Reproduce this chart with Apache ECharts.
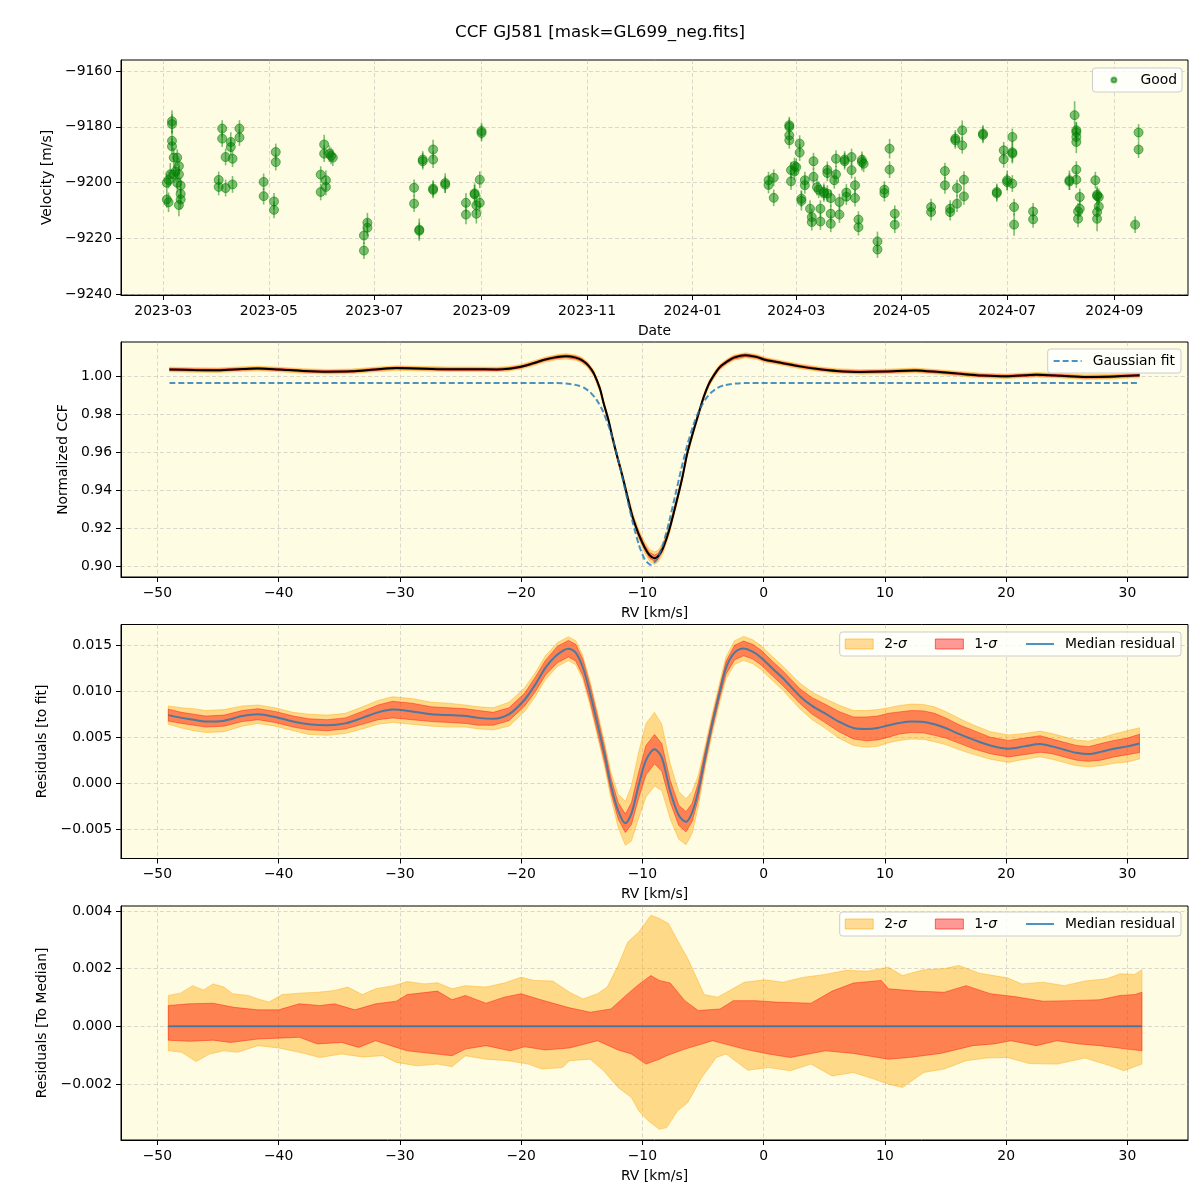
<!DOCTYPE html>
<html><head><meta charset="utf-8">
<script src="https://cdn.jsdelivr.net/npm/echarts@6/dist/echarts.min.js"></script>
<style>html,body{margin:0;padding:0;background:#fff}#c{width:1200px;height:1200px}</style>
</head><body><div id="c"></div>
<script>
const FONT = 'DejaVu Sans';
const FS = 13.9;

// ---------- Panel 1: RV time series ----------
const obsDates = [
'2023-03-03','2023-03-03','2023-03-04','2023-03-04','2023-03-05','2023-03-06','2023-03-06','2023-03-06','2023-03-06','2023-03-07',
'2023-03-07','2023-03-08','2023-03-09','2023-03-09','2023-03-10','2023-03-10','2023-03-10','2023-03-11','2023-03-11','2023-03-11',
'2023-04-02','2023-04-02','2023-04-04','2023-04-04','2023-04-06','2023-04-06','2023-04-09','2023-04-09','2023-04-10','2023-04-10',
'2023-04-14','2023-04-14','2023-04-28','2023-04-28','2023-05-04','2023-05-04','2023-05-05','2023-05-05',
'2023-05-31','2023-05-31','2023-06-02','2023-06-02','2023-06-03','2023-06-03','2023-06-05','2023-06-06','2023-06-07',
'2023-06-25','2023-06-25','2023-06-27','2023-06-27',
'2023-07-24','2023-07-24','2023-07-27','2023-07-27','2023-07-29','2023-07-29','2023-08-04','2023-08-04','2023-08-04','2023-08-04',
'2023-08-11','2023-08-11','2023-08-23','2023-08-23','2023-08-28','2023-08-28','2023-08-29','2023-08-29','2023-08-31','2023-08-31',
'2023-09-01','2023-09-01',
'2024-02-14','2024-02-14','2024-02-17','2024-02-17','2024-02-26','2024-02-26','2024-02-26','2024-02-26','2024-02-27','2024-02-27',
'2024-02-29','2024-02-29','2024-03-01','2024-03-03','2024-03-03','2024-03-04','2024-03-04','2024-03-06','2024-03-06','2024-03-09',
'2024-03-10','2024-03-10','2024-03-11','2024-03-11','2024-03-13','2024-03-14','2024-03-15','2024-03-15','2024-03-17','2024-03-17',
'2024-03-19','2024-03-19','2024-03-19','2024-03-21','2024-03-21','2024-03-21','2024-03-23','2024-03-24','2024-03-24','2024-03-26',
'2024-03-26','2024-03-29','2024-03-29','2024-03-30','2024-03-30','2024-04-02','2024-04-02','2024-04-04','2024-04-04','2024-04-06',
'2024-04-06','2024-04-08','2024-04-08','2024-04-09','2024-04-17','2024-04-17','2024-04-21','2024-04-21','2024-04-24','2024-04-24',
'2024-04-27','2024-04-27',
'2024-05-18','2024-05-18','2024-05-26','2024-05-26','2024-05-29','2024-05-29','2024-06-01','2024-06-01','2024-06-02','2024-06-02',
'2024-06-05','2024-06-05','2024-06-06','2024-06-06','2024-06-17','2024-06-17','2024-06-25','2024-06-25','2024-06-29','2024-06-29',
'2024-07-01','2024-07-01','2024-07-04','2024-07-04','2024-07-04','2024-07-04','2024-07-05','2024-07-05','2024-07-16','2024-07-16',
'2024-08-06','2024-08-06','2024-08-09','2024-08-10','2024-08-10','2024-08-10','2024-08-10','2024-08-10','2024-08-10','2024-08-12',
'2024-08-12','2024-08-11','2024-08-11','2024-08-21','2024-08-22','2024-08-22','2024-08-23','2024-08-23','2024-08-22','2024-08-22',
'2024-09-13','2024-09-15','2024-09-15'
];
const obsRV = [
-9200,-9206,-9207,-9199,-9197,-9178,-9179,-9185,-9187,-9191,
-9197,-9196,-9191,-9200,-9194,-9197,-9208,-9204,-9206,-9201,
-9199,-9201.5,-9180.6,-9184.2,-9190.8,-9201.9,-9185.4,-9187.2,-9191.4,-9200.6,
-9180.6,-9183.8,-9199.7,-9204.8,-9206.7,-9209.7,-9189,-9192.6,
-9197.1,-9203.3,-9186.3,-9189.6,-9199.1,-9201.5,-9189.6,-9190.4,-9191,
-9218.9,-9224.3,-9214.3,-9216.1,
-9201.8,-9207.5,-9216.8,-9217.2,-9191.7,-9192.3,-9202.1,-9202.6,-9188.1,-9191.7,
-9200.1,-9200.7,-9207.2,-9211.4,-9204.2,-9203.8,-9208.1,-9211.1,-9207.2,-9198.9,
-9181.5,-9182.2,
-9199.1,-9200.8,-9198.2,-9205.4,-9179.4,-9180,-9183,-9184.8,-9195.5,-9199.5,
-9196,-9194,-9194.4,-9186,-9189.2,-9205.7,-9206.5,-9199.1,-9200.9,-9209.3,
-9212.3,-9214.1,-9192.3,-9197.9,-9201.6,-9202.5,-9209.3,-9213.9,-9203.3,-9203.8,
-9195.4,-9196.5,-9203.9,-9205.5,-9211.1,-9214.7,-9199.1,-9197,-9191.4,-9206.9,
-9211.4,-9191.7,-9192.3,-9203.5,-9205,-9190.8,-9195.5,-9200.9,-9205.5,-9213.2,
-9215.9,-9191.8,-9192.6,-9193.2,-9221,-9223.9,-9202.5,-9203.7,-9187.8,-9195.3,
-9211.1,-9215,
-9208.7,-9210.5,-9195.8,-9200.9,-9209.3,-9210.5,-9184.2,-9184.8,-9201.9,-9207.5,
-9181.2,-9186.6,-9198.9,-9204.9,-9182.4,-9182.9,-9203.3,-9203.8,-9188.4,-9191.6,
-9199.1,-9199.8,-9183.6,-9189.1,-9189.6,-9200.3,-9208.7,-9215,-9210.3,-9213.1,
-9199.1,-9199.6,-9175.8,-9181.2,-9181.9,-9183.6,-9185.4,-9195.3,-9198.9,-9205.1,
-9209.3,-9210.3,-9212.9,-9199.1,-9204.3,-9204.8,-9205.1,-9208.5,-9210.5,-9212.9,
-9215,-9182,-9188.1
];
const obsErr = [
3,3,3.5,3,4,4,3.5,3.5,3,3.5,
3,3.5,3,3.5,3,3,4,3.5,3.5,3,
3,3,3,3,3,3,3.5,3,3,3,
3,3,3,3,3,3,3,3,
3,3,3.5,3,3.5,3,3,3,3,
3,3,3.5,3,
3,3,4,3,3,3,3,3,3.5,3,
3.5,3,3.5,3.5,4,3,3.5,3.5,3,3,
3,3,
3,3,3,3,3,3,3,3,3,3,
3,3,3,3,3,3,3.5,3,3,3,
3,3,3,3,3,3,3,3,3,3,
3,3,3,3,3,3,3,3,3,3,
3,3,3,3,3,3,3,3,3,3,
3,3,3,3,3.5,3,3,3,3.5,3,
3,3,
3,3,3,3,3,3,3,3,3,3,
3.5,3,3,3,3,3,3,3,3,3,
3.5,3,3,4,3,3,3,4,3,3,
3.5,3,5,3,3.5,3,4,3,3,3,
3,3,3,3,3,3,3,3,3,4.5,
3,3,3
];
const dateTicks = ['2023-03-01','2023-05-01','2023-07-01','2023-09-01','2023-11-01','2024-01-01','2024-03-01','2024-05-01','2024-07-01','2024-09-01'];
const velTicks = [-9240,-9220,-9200,-9180,-9160];

// ---------- Panel 2: CCF ----------
const rvCCF = [-49,-47,-45,-43,-41.7,-40,-38,-36,-34,-32,-30.3,-28,-26,-24,-22,-21,-20,-19,-18,-17,
-16.3,-15.5,-15,-14.5,-14,-13.5,-13.2,-12.8,-12.4,-12,-11.7,-11.2,-10.8,-10.3,-9.8,-9.4,-9.0,-8.7,-8.3,-7.8,
-7.15,-6.7,-6.3,-5.85,-5.4,-4.95,-4.5,-4.0,-3.6,-3.0,-2.45,-1.5,-0.6,0.1,1.5,3,4.5,6,8,10,
12.5,14.5,16,18,20,22.5,24.5,26.5,28.5,31];
const ccf = [1.0036,1.0033,1.0032,1.0038,1.0041,1.0036,1.0028,1.0024,1.0026,1.0036,1.0043,1.0040,1.0037,1.0037,1.0036,1.0040,1.0050,1.0068,1.0088,1.0101,
1.0105,1.0098,1.0085,1.0060,1.0015,0.9935,0.9860,0.9770,0.9660,0.9560,0.9490,0.9360,0.9260,0.9170,0.9100,0.9060,0.9045,0.9055,0.9098,0.9190,
0.9350,0.9470,0.9595,0.9700,0.9796,0.9890,0.9962,1.0015,1.0049,1.0078,1.0098,1.0110,1.0102,1.0087,1.0070,1.0052,1.0038,1.0028,1.0023,1.0025,
1.0031,1.0022,1.0014,1.0004,1.0000,1.0008,1.0003,0.9996,0.9998,1.0005];
const ccfSig1 = [0.0006,0.0006,0.0006,0.0006,0.0006,0.0006,0.0006,0.0006,0.0006,0.0006,0.0006,0.0006,0.0006,0.0006,0.0006,0.0006,0.0006,0.0006,0.0006,0.0007,
0.0007,0.0008,0.0008,0.0008,0.0008,0.0009,0.0009,0.0010,0.0010,0.0010,0.0011,0.0011,0.0012,0.0013,0.0014,0.0015,0.0016,0.0015,0.0014,0.0012,
0.0011,0.0010,0.0010,0.0009,0.0009,0.0008,0.0008,0.0008,0.0008,0.0008,0.0008,0.0007,0.0007,0.0007,0.0006,0.0006,0.0006,0.0006,0.0006,0.0006,
0.0006,0.0006,0.0006,0.0006,0.0006,0.0006,0.0006,0.0006,0.0006,0.0006];
const ccfSig2 = [0.0012,0.0012,0.0012,0.0012,0.0012,0.0012,0.0012,0.0012,0.0012,0.0012,0.0012,0.0012,0.0012,0.0012,0.0012,0.0012,0.0012,0.0013,0.0013,0.0013,
0.0014,0.0014,0.0015,0.0015,0.0016,0.0017,0.0017,0.0018,0.0019,0.0020,0.0021,0.0022,0.0024,0.0026,0.0029,0.0031,0.0033,0.0031,0.0029,0.0026,
0.0023,0.0021,0.0019,0.0018,0.0017,0.0016,0.0015,0.0015,0.0014,0.0014,0.0014,0.0013,0.0013,0.0013,0.0012,0.0012,0.0012,0.0012,0.0012,0.0012,
0.0012,0.0012,0.0012,0.0012,0.0012,0.0012,0.0012,0.0012,0.0012,0.0012];
const rvGauss = [-49,-17,-16.3,-15.3,-14.8,-14.3,-13.8,-13.3,-12.8,-12.3,-11.8,-11.3,-10.8,-10.3,-9.8,-9.3,
-8.8,-8.3,-7.8,-7.3,-6.8,-6.3,-5.8,-5.3,-4.8,-4.3,-3.8,-3.3,-2.3,-1.3,31];
const gauss = [0.9965,0.9965,0.9962,0.9952,0.9939,0.9916,0.9879,0.9823,0.9743,0.9638,0.9511,0.9372,0.9234,0.9117,0.9038,0.9010,
0.9038,0.9117,0.9234,0.9372,0.9511,0.9638,0.9743,0.9823,0.9879,0.9916,0.9939,0.9952,0.9962,0.9965,0.9965];
const rvTicks = [-50,-40,-30,-20,-10,0,10,20,30];
const ccfTicks = [0.90,0.92,0.94,0.96,0.98,1.00];

// ---------- Panel 3: residuals to fit ----------
const rvRes = [-49.1,-48,-47,-46,-44.5,-43,-41.7,-40.3,-38.8,-37.5,-36,-34.5,-33.1,-31.8,-30.6,-29,-27.4,-26,-24.6,-23.5,
-22.3,-21,-19.7,-18.8,-18.0,-17.0,-16.1,-15.5,-14.9,-14.3,-13.7,-13.1,-12.6,-12.0,-11.4,-10.9,-10.3,-9.7,-9.0,-8.4,
-7.7,-7.0,-6.4,-5.9,-5.4,-4.8,-4.25,-3.6,-3.1,-2.4,-1.65,-0.9,-0.2,0.7,1.55,3.0,4.0,5.0,6.2,7.4,
8.5,9.4,10.3,11.2,12.2,13.2,14.1,15.0,16.2,17.3,18.7,20.2,21.5,22.8,23.8,24.8,25.8,26.8,27.8,28.9,30,31];
const resMed = [0.0074,0.0071,0.0069,0.0067,0.0068,0.0073,0.0075,0.0072,0.0067,0.0064,0.0063,0.0065,0.0071,0.0077,0.0080,0.0078,0.0075,0.0074,0.0073,0.0071,
0.0070,0.0075,0.0091,0.0108,0.01255,0.0140,0.01463,0.0142,0.01255,0.0097,0.0064,0.0030,-0.0002,-0.0030,-0.00437,-0.0033,-0.0002,0.0025,0.0037,0.0028,
-0.0009,-0.0035,-0.0042,-0.0032,-0.0009,0.0030,0.0064,0.0100,0.01255,0.0142,0.01466,0.0143,0.01365,0.0125,0.01146,0.00946,0.0084,0.00764,0.0067,0.0060,
0.0059,0.0060,0.0063,0.00655,0.0067,0.00666,0.0064,0.0060,0.0053,0.00473,0.0041,0.00375,0.0040,0.00426,0.0040,0.00364,0.0033,0.00317,0.0034,0.00375,0.0040,0.00432];
const resSig1 = [0.00065,0.0006,0.0006,0.0006,0.0006,0.0006,0.0006,0.0006,0.0006,0.0006,0.0006,0.0006,0.0007,0.0008,0.0009,0.0009,0.0008,0.0008,0.0008,0.0008,
0.0007,0.0007,0.0007,0.0008,0.0008,0.0009,0.0009,0.0009,0.0009,0.0009,0.0009,0.0008,0.0008,0.0009,0.0010,0.0012,0.0014,0.0016,0.0016,0.0015,
0.0012,0.0011,0.0011,0.0010,0.0009,0.0007,0.0006,0.0006,0.0007,0.0008,0.0008,0.0008,0.0008,0.0008,0.0008,0.0008,0.0009,0.0010,0.0011,0.0012,
0.0013,0.0013,0.0013,0.0012,0.0012,0.0012,0.0012,0.0011,0.0010,0.0010,0.0009,0.0009,0.0009,0.0009,0.0008,0.0008,0.0008,0.0008,0.0009,0.0009,0.0009,0.0010];
const resSig2 = [0.0010,0.0011,0.0012,0.0012,0.0012,0.0011,0.0010,0.0010,0.0010,0.0011,0.0011,0.0011,0.0012,0.0013,0.0014,0.0014,0.0013,0.0013,0.0012,0.0012,
0.0012,0.0013,0.0013,0.0013,0.0013,0.0013,0.0013,0.0013,0.0013,0.0013,0.0013,0.0013,0.0014,0.0018,0.0024,0.0030,0.0036,0.0040,0.0040,0.0036,
0.0030,0.0026,0.0025,0.0023,0.0017,0.0012,0.0011,0.0011,0.0012,0.0013,0.0013,0.0013,0.0013,0.0013,0.0013,0.0014,0.0015,0.0016,0.0018,0.0019,
0.0020,0.0020,0.0019,0.0019,0.0019,0.0019,0.0019,0.0018,0.0017,0.0016,0.0015,0.0015,0.0014,0.0014,0.0014,0.0014,0.0014,0.0014,0.0015,0.0016,0.0017,0.0017];
const resTicks = [-0.005,0,0.005,0.010,0.015];

// ---------- Panel 4: residuals to median ----------
const medUp2 = [[-49.1,0.00107],[-48.1,0.00115],[-47.1,0.00141],[-46.2,0.00126],[-45.4,0.00147],[-44.5,0.00136],[-43.8,0.00113],[-42.5,0.00107],[-41.7,0.00095],[-40.8,0.00084],
[-39.7,0.0011],[-38.3,0.00115],[-36.8,0.00118],[-35.4,0.00124],[-34.3,0.00136],[-33.1,0.0011],[-32.0,0.0013],[-30.5,0.00141],[-29.4,0.00155],[-28.0,0.00147],
[-26.9,0.00151],[-25.7,0.0013],[-24.6,0.00141],[-22.9,0.00136],[-21.4,0.0015],[-20.0,0.0017],[-18.9,0.00159],[-17.4,0.00157],[-16.0,0.00118],[-14.9,0.00095],
[-13.7,0.00113],[-12.9,0.00136],[-12.0,0.00211],[-11.2,0.00292],[-10.3,0.00327],[-9.3,0.00385],[-8.6,0.00374],[-7.85,0.00356],[-7.1,0.00298],[-6.25,0.00234],
[-4.9,0.0011],[-3.8,0.00101],[-2.8,0.00124],[-1.6,0.00153],[0.1,0.00161],[1.6,0.00153],[3.3,0.0017],[5.1,0.0018],[6.8,0.00194],[8.55,0.00191],
[10.3,0.00205],[11.45,0.00176],[13.2,0.00196],[14.9,0.002],[16.1,0.00211],[17.8,0.00184],[20.1,0.00168],[21.3,0.00147],[23.05,0.00153],[24.8,0.00141],
[26.5,0.00157],[28.3,0.00165],[29.4,0.00182],[30.6,0.0018],[31.2,0.00196]];
const medUp1 = [[-49.1,0.00072],[-47.4,0.00078],[-45.4,0.0008],[-43.7,0.00066],[-41.7,0.00057],[-40.0,0.00057],[-38.3,0.00078],[-36.6,0.00072],[-35.4,0.00078],[-33.7,0.00057],
[-32.0,0.00078],[-30.3,0.00087],[-29.4,0.0011],[-26.9,0.00122],[-25.7,0.00092],[-24.6,0.00107],[-22.9,0.0008],[-21.4,0.00101],[-20.0,0.00113],[-18.6,0.00095],
[-17.2,0.00078],[-16.0,0.00064],[-14.3,0.00049],[-12.6,0.0006],[-11.2,0.00113],[-10.3,0.00145],[-9.3,0.00176],[-8.6,0.00159],[-7.7,0.0015],[-6.5,0.00089],
[-5.4,0.00055],[-3.6,0.0006],[-2.5,0.00089],[-0.7,0.00089],[1.0,0.00084],[3.9,0.0008],[5.65,0.00122],[7.4,0.0015],[9.7,0.00159],[10.3,0.0013],
[12.6,0.00122],[14.9,0.00118],[16.7,0.00141],[18.7,0.00113],[20.7,0.00103],[23.05,0.00087],[25.4,0.00089],[27.7,0.00092],[29.4,0.00107],[30.6,0.0011],[31.2,0.00118]];
const medLo1 = [[-49.1,-0.00048],[-47.4,-0.00052],[-45.4,-0.00048],[-44.0,-0.00056],[-41.7,-0.00044],[-40.0,-0.00041],[-38.3,-0.00038],[-36.8,-0.00061],[-34.8,-0.00056],[-33.4,-0.00073],
[-32.0,-0.0005],[-30.3,-0.00073],[-29.4,-0.00085],[-27.4,-0.00094],[-25.7,-0.00102],[-24.6,-0.00079],[-22.9,-0.00067],[-20.9,-0.00085],[-19.7,-0.00071],[-18.0,-0.00082],
[-16.0,-0.00075],[-13.7,-0.0005],[-12.0,-0.00082],[-10.9,-0.00096],[-9.7,-0.00131],[-8.6,-0.00114],[-8.0,-0.00102],[-6.5,-0.00079],[-4.2,-0.0005],[-1.6,-0.00079],
[0.4,-0.00096],[2.2,-0.00108],[5.1,-0.00085],[7.4,-0.00094],[10.3,-0.00114],[12.0,-0.00108],[14.6,-0.00094],[17.25,-0.00067],[19.0,-0.00061],[20.4,-0.0005],
[22.5,-0.00067],[24.2,-0.0005],[26.0,-0.00061],[27.7,-0.00067],[30.0,-0.00079],[31.2,-0.00085]];
const medLo2 = [[-49.1,-0.00085],[-48.0,-0.0009],[-46.8,-0.00122],[-45.7,-0.00096],[-44.5,-0.00085],[-43.4,-0.0009],[-41.7,-0.00067],[-40.0,-0.00075],[-38.3,-0.0009],[-36.6,-0.00108],
[-34.8,-0.00096],[-33.1,-0.00106],[-31.4,-0.00102],[-30.3,-0.00125],[-28.6,-0.00137],[-26.9,-0.00131],[-25.7,-0.0014],[-24.6,-0.00102],[-22.9,-0.00114],[-21.1,-0.00119],
[-19.4,-0.00131],[-18.3,-0.00148],[-16.6,-0.00143],[-16.0,-0.00119],[-14.3,-0.00114],[-13.2,-0.00154],[-12.0,-0.00212],[-10.9,-0.00247],[-10.3,-0.00293],[-9.5,-0.00328],
[-8.6,-0.00357],[-8.0,-0.00351],[-7.1,-0.00293],[-6.25,-0.00264],[-5.1,-0.00177],[-3.9,-0.00108],[-3.1,-0.00096],[-1.3,-0.00152],[0.4,-0.00143],[2.2,-0.00154],
[3.9,-0.00131],[5.65,-0.00172],[7.4,-0.0016],[9.1,-0.00183],[10.3,-0.00201],[11.45,-0.00212],[13.2,-0.0016],[14.9,-0.00148],[16.7,-0.00119],[18.4,-0.0011],
[20.1,-0.00108],[21.9,-0.00129],[24.2,-0.00131],[26.5,-0.0011],[28.6,-0.00137],[29.7,-0.00154],[31.2,-0.00131]];
const medLine = [[-49.1,0],[31.2,0]];
const medTicks = [-0.002,0,0.002,0.004];

// ---------- helpers ----------
function ts(s){ const p = s.split('-').map(Number); return Date.UTC(p[0], p[1]-1, p[2]); }
function fmt(v, n){ let s = Number(v).toFixed(n); if (/^-0\.?0*$/.test(s)) s = s.slice(1); return s.replace('-', '\u2212'); }
const C2 = 'rgba(255,165,0,0.4)', C1 = 'rgba(255,0,0,0.4)';
const BLUE = 'rgba(31,119,180,0.8)';
const GRIDLINE = {show:true, lineStyle:{color:'rgba(176,176,176,0.6)', type:[4,2.5], width:0.8}};
const labelTxt = {color:'#000', fontSize:FS, fontFamily:FONT};
const AXLINE = {show:true, onZero:false, lineStyle:{color:'#000', width:1}};

function yAx(g, min, max, ticks, dec, name, gap){
  return {type:'value', gridIndex:g, min, max, name, nameLocation:'middle', nameGap:gap,
    nameTextStyle:{color:'#000', fontSize:FS, fontFamily:FONT},
    axisLine:AXLINE,
    axisTick:{show:true, length:5, customValues:ticks, lineStyle:{color:'#000', width:1}},
    axisLabel:Object.assign({customValues:ticks, margin:9, formatter:v=>fmt(v,dec)}, labelTxt),
    splitLine:GRIDLINE};
}
function xRV(g){
  return {type:'value', gridIndex:g, min:-53, max:35, name:'RV [km/s]', nameLocation:'middle', nameGap:29,
    nameTextStyle:{color:'#000', fontSize:FS, fontFamily:FONT},
    axisLine:AXLINE,
    axisTick:{show:true, length:5, customValues:rvTicks, lineStyle:{color:'#000', width:1}},
    axisLabel:Object.assign({customValues:rvTicks, margin:9, formatter:v=>fmt(v,0)}, labelTxt),
    splitLine:GRIDLINE};
}
function band(name, g, up, lo, fill){
  return {type:'custom', name, xAxisIndex:g, yAxisIndex:g, data:[up[0]], silent:true, z:2,
    renderItem:function(params, api){
      const pts = up.map(p=>api.coord(p)).concat(lo.slice().reverse().map(p=>api.coord(p)));
      return {type:'polygon', shape:{points:pts}, style:{fill:fill, stroke:fill, lineWidth:1}};
    }};
}
const gridStyle = {show:true, backgroundColor:'#FEFCE3', borderColor:'#000', borderWidth:1, left:121, right:12};

const obs = obsDates.map((d,i)=>[ts(d), obsRV[i], obsErr[i]]);
const ccfUp2 = rvCCF.map((r,i)=>[r, ccf[i]+ccfSig2[i]]), ccfLo2 = rvCCF.map((r,i)=>[r, ccf[i]-ccfSig2[i]]);
const ccfUp1 = rvCCF.map((r,i)=>[r, ccf[i]+ccfSig1[i]]), ccfLo1 = rvCCF.map((r,i)=>[r, ccf[i]-ccfSig1[i]]);
const resUp2 = rvRes.map((r,i)=>[r, resMed[i]+resSig2[i]]), resLo2 = rvRes.map((r,i)=>[r, resMed[i]-resSig2[i]]);
const resUp1 = rvRes.map((r,i)=>[r, resMed[i]+resSig1[i]]), resLo1 = rvRes.map((r,i)=>[r, resMed[i]-resSig1[i]]);

const NOSYM = {color:'rgba(0,0,0,0)', borderColor:'rgba(0,0,0,0)', borderWidth:0};
const legendBase = {backgroundColor:'rgba(255,255,255,0.8)', borderColor:'#cccccc', borderWidth:1, borderRadius:3,
  selectedMode:false, itemWidth:28, itemHeight:10, itemGap:28, right:19,
  formatter:n=>n.replace('σ','{i|σ}'),
  textStyle:{color:'#000', fontSize:FS, fontFamily:FONT, padding:[0,0,0,6], rich:{i:{fontStyle:'italic', fontSize:FS, fontFamily:FONT, color:'#000'}}}};
const sigLegendData = [
  {name:'2-σ', icon:'rect', itemStyle:{color:C2, borderColor:'rgba(255,165,0,0.55)', borderWidth:1}},
  {name:'1-σ', icon:'rect', itemStyle:{color:C1, borderColor:'rgba(255,0,0,0.55)', borderWidth:1}},
  {name:'Median residual', itemStyle:NOSYM}];

const option = {
  animation:false,
  backgroundColor:'#fff',
  title:{text:'CCF GJ581 [mask=GL699_neg.fits]', left:'center', top:24.5, padding:0,
    textStyle:{fontFamily:FONT, fontSize:16.7, fontWeight:'normal', color:'#000'}},
  grid:[
    Object.assign({top:60, height:235}, gridStyle),
    Object.assign({top:342, height:235}, gridStyle),
    Object.assign({top:624.5, height:234}, gridStyle),
    Object.assign({top:906, height:234}, gridStyle)
  ],
  xAxis:[
    {type:'value', gridIndex:0, min:Date.UTC(2023,1,4,12), max:Date.UTC(2024,9,13,14),
     name:'Date', nameLocation:'middle', nameGap:29, nameTextStyle:{color:'#000', fontSize:FS, fontFamily:FONT},
     axisLine:AXLINE,
     axisTick:{show:true, length:5, customValues:dateTicks.map(ts), lineStyle:{color:'#000', width:1}},
     axisLabel:Object.assign({customValues:dateTicks.map(ts), margin:9,
       formatter:v=>{const d=new Date(v); return d.getUTCFullYear()+'-'+String(d.getUTCMonth()+1).padStart(2,'0');}}, labelTxt),
     splitLine:GRIDLINE},
    xRV(1), xRV(2), xRV(3)
  ],
  yAxis:[
    yAx(0, -9240.2, -9156.05, velTicks, 0, 'Velocity [m/s]', 60),
    yAx(1, 0.8946, 1.0180, ccfTicks, 2, 'Normalized CCF', 44),
    yAx(2, -0.0082, 0.01726, resTicks, 3, 'Residuals [to fit]', 64),
    yAx(3, -0.00394, 0.00417, medTicks, 3, 'Residuals [To Median]', 64)
  ],
  legend:[
    {data:[{name:'Good', icon:'circle', itemStyle:{color:'rgba(0,128,0,0.55)'}}],
     right:18, top:68, itemWidth:5, itemHeight:5, padding:[5,5,5,18], selectedMode:false,
     backgroundColor:'rgba(255,255,255,0.8)', borderColor:'#cccccc', borderWidth:1, borderRadius:3,
     textStyle:{color:'#000', fontSize:FS, fontFamily:FONT, padding:[0,0,0,19]}},
    Object.assign({}, legendBase, {data:[{name:'Gaussian fit', itemStyle:NOSYM}], top:349, padding:[5,6,5,5], itemGap:10}),
    Object.assign({}, legendBase, {data:sigLegendData, top:632, padding:[5,6,5,5]}),
    Object.assign({}, legendBase, {data:sigLegendData, top:912, padding:[5,6,5,5]})
  ],
  series:[
    {type:'custom', name:'errbars', xAxisIndex:0, yAxisIndex:0, data:obs, silent:true, z:2,
     encode:{x:0, y:1},
     renderItem:function(params, api){
       const x = api.value(0), y = api.value(1), e = api.value(2);
       const a = api.coord([x, y-e]), b = api.coord([x, y+e]);
       return {type:'line', shape:{x1:a[0], y1:a[1], x2:b[0], y2:b[1]}, style:{stroke:'rgba(0,128,0,0.5)', lineWidth:1.6}};
     }},
    {type:'scatter', name:'Good', xAxisIndex:0, yAxisIndex:0, data:obs.map(o=>[o[0], o[1]]), symbolSize:9, silent:true, z:3,
     itemStyle:{color:'rgba(0,128,0,0.5)', borderColor:'rgba(0,128,0,0.55)', borderWidth:1, opacity:1}},

    band('ccf2', 1, ccfUp2, ccfLo2, C2),
    band('ccf1', 1, ccfUp1, ccfLo1, C1),
    {type:'line', name:'CCF', xAxisIndex:1, yAxisIndex:1, data:rvCCF.map((r,i)=>[r, ccf[i]]), symbol:'none', smooth:0.3, silent:true, z:4,
     lineStyle:{color:'#000', width:2}},
    {type:'line', name:'Gaussian fit', xAxisIndex:1, yAxisIndex:1, data:rvGauss.map((r,i)=>[r, gauss[i]]), symbol:'none', smooth:0.2, silent:true, z:5,
     itemStyle:{color:BLUE}, lineStyle:{color:BLUE, width:2, type:[6,3]}},

    band('2-σ', 2, resUp2, resLo2, C2),
    band('1-σ', 2, resUp1, resLo1, C1),
    {type:'line', name:'Median residual', xAxisIndex:2, yAxisIndex:2, data:rvRes.map((r,i)=>[r, resMed[i]]), symbol:'none', smooth:0.3, silent:true, z:4,
     itemStyle:{color:BLUE}, lineStyle:{color:BLUE, width:2}},

    band('2-σ', 3, medUp2, medLo2, C2),
    band('1-σ', 3, medUp1, medLo1, C1),
    {type:'line', name:'Median residual', xAxisIndex:3, yAxisIndex:3, data:medLine, symbol:'none', silent:true, z:4,
     itemStyle:{color:BLUE}, lineStyle:{color:BLUE, width:2}}
  ]
};
const chart = echarts.init(document.getElementById('c'), null, {renderer:'canvas'});
chart.setOption(option);
</script>
</body></html>
